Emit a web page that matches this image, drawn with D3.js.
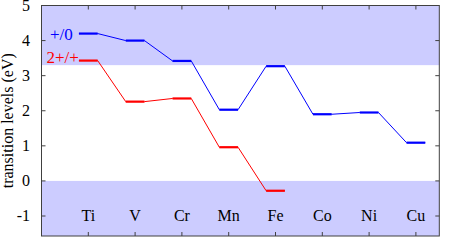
<!DOCTYPE html>
<html><head><meta charset="utf-8">
<script src="https://cdn.jsdelivr.net/npm/d3@7"></script>
<style>body{margin:0;background:#fff}svg{display:block}</style>
</head><body>
<script>
const elements = ["Ti","V","Cr","Mn","Fe","Co","Ni","Cu"];
const levelPlus0 = [4.2, 4.0, 3.42, 2.03, 3.27, 1.9, 1.95, 1.09];
const level2Plus = [3.43, 2.26, 2.35, 0.96, -0.28];
const yTicks = [-1, 0, 1, 2, 3, 4, 5];
const cbmValue = 3.3;
const vbmValue = 0;
const seriesNames = ["+/0", "2+/+"];

const W = 452, H = 246;
const FONT = "'Liberation Serif', 'Times New Roman', serif";
const m = {l: 41.5, r: 439.3, t: 5.5, b: 236};
const svg = d3.select("body").append("svg").attr("width", W).attr("height", H)
  .attr("font-family", FONT);
const x = d3.scaleLinear().domain([0, 8.5]).range([m.l, m.r]);
const y = d3.scaleLinear().domain([-1.57, 5]).range([m.b, m.t]);
const hw = 0.2;
const bandColor = "#ccccff";

svg.append("rect").attr("x", m.l).attr("width", m.r - m.l)
  .attr("y", y(5)).attr("height", y(cbmValue) - y(5)).attr("fill", bandColor);
svg.append("rect").attr("x", m.l).attr("width", m.r - m.l)
  .attr("y", y(vbmValue)).attr("height", y(-1.57) - y(vbmValue)).attr("fill", bandColor);

function drawSeries(vals, color) {
  const pts = [];
  vals.forEach((v, i) => { pts.push([i + 1 - hw, v]); pts.push([i + 1 + hw, v]); });
  svg.append("path").datum(pts)
    .attr("d", d3.line().x(d => x(d[0])).y(d => y(d[1])))
    .attr("fill", "none").attr("stroke", color).attr("stroke-width", 1);
  svg.selectAll(null).data(vals).enter().append("line")
    .attr("x1", (d, i) => x(i + 1 - hw)).attr("x2", (d, i) => x(i + 1 + hw))
    .attr("y1", d => y(d)).attr("y2", d => y(d))
    .attr("stroke", color).attr("stroke-width", 2.2);
}
drawSeries(levelPlus0, "#0000ff");
drawSeries(level2Plus, "#ff0000");

const axisColor = "#404040";
svg.append("rect").attr("x", m.l).attr("y", m.t).attr("width", m.r - m.l).attr("height", m.b - m.t)
  .attr("fill", "none").attr("stroke", axisColor).attr("stroke-width", 1);

const tl = 4;
yTicks.forEach(t => {
  svg.append("line").attr("x1", m.l).attr("x2", m.l + tl).attr("y1", y(t)).attr("y2", y(t)).attr("stroke", axisColor);
  svg.append("line").attr("x1", m.r).attr("x2", m.r - tl).attr("y1", y(t)).attr("y2", y(t)).attr("stroke", axisColor);
  svg.append("text").attr("x", 30).attr("y", y(t)).attr("dy", "0.34em")
    .attr("text-anchor", "end").attr("font-size", 16).attr("fill", "#000").text(t);
});
elements.forEach((e, i) => {
  svg.append("line").attr("x1", x(i + 1)).attr("x2", x(i + 1)).attr("y1", m.b).attr("y2", m.b - tl).attr("stroke", axisColor);
  svg.append("line").attr("x1", x(i + 1)).attr("x2", x(i + 1)).attr("y1", m.t).attr("y2", m.t + tl).attr("stroke", axisColor);
  svg.append("text").attr("x", x(i + 1)).attr("y", y(-1)).attr("dy", "0.34em")
    .attr("text-anchor", "middle").attr("font-size", 16).attr("fill", "#000").text(e);
});

svg.append("text").attr("transform", `translate(13,${(m.t + m.b) / 2}) rotate(-90)`)
  .attr("text-anchor", "middle").attr("font-size", 16).attr("fill", "#000")
  .text("transition levels (eV)");

svg.append("text").attr("x", 50).attr("y", 40).attr("font-size", 17).attr("fill", "#0000ff").text(seriesNames[0]);
svg.append("text").attr("x", 46.5).attr("y", 62.5).attr("font-size", 17).attr("fill", "#ff0000").text(seriesNames[1]);
</script>
</body></html>
